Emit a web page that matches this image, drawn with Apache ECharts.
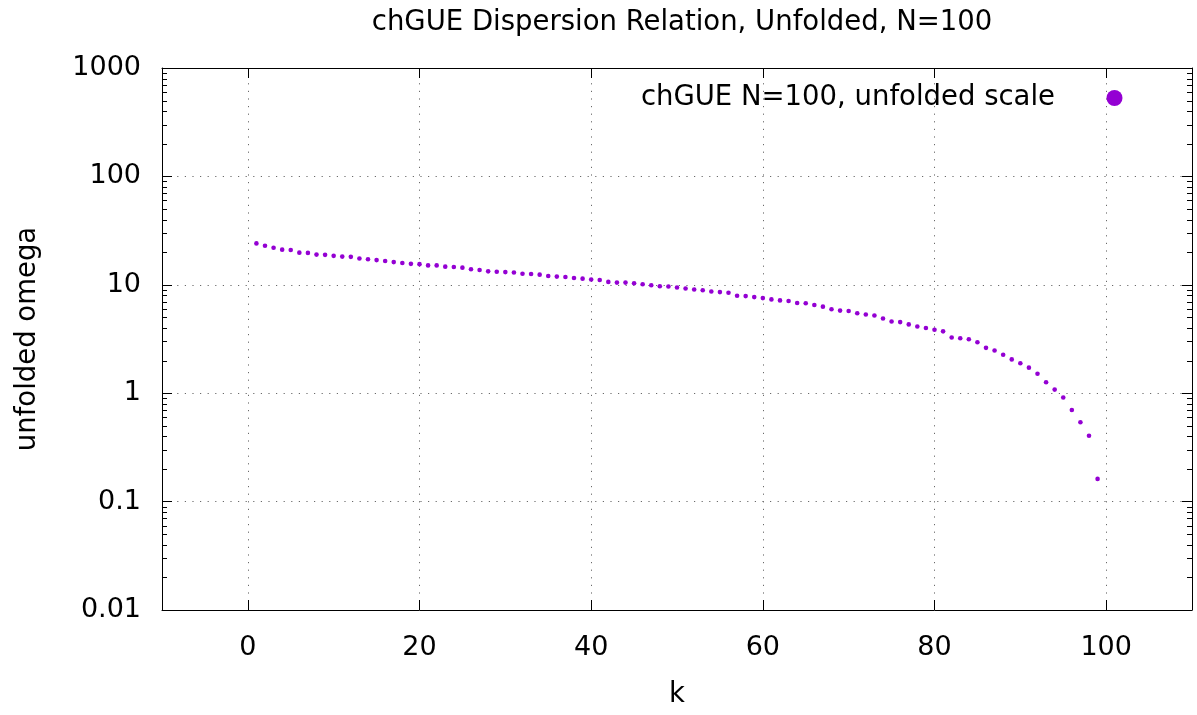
<!DOCTYPE html>
<html><head><meta charset="utf-8">
<script src="https://cdn.jsdelivr.net/npm/echarts@6/dist/echarts.min.js"></script>
<style>html,body{margin:0;padding:0;background:#fff}#c{width:1197px;height:715px}</style>
</head><body><div id="c"></div>
<script>
const titleText = 'chGUE Dispersion Relation, Unfolded, N=100';
const seriesName = 'chGUE N=100, unfolded scale';
const xName = 'k';
const yName = 'unfolded omega';
const kValues = [1,2,3,4,5,6,7,8,9,10,11,12,13,14,15,16,17,18,19,20,
  21,22,23,24,25,26,27,28,29,30,31,32,33,34,35,36,37,38,39,40,
  41,42,43,44,45,46,47,48,49,50,51,52,53,54,55,56,57,58,59,60,
  61,62,63,64,65,66,67,68,69,70,71,72,73,74,75,76,77,78,79,80,
  81,82,83,84,85,86,87,88,89,90,91,92,93,94,95,96,97,98,99];
const omegaValues = [24.1,22.9,22.0,21.1,20.95,19.8,19.7,19.0,18.9,18.5,
  18.2,18.1,17.5,17.2,16.9,16.6,16.2,15.9,15.6,15.5,
  15.1,15.1,14.7,14.6,14.4,13.9,13.7,13.3,13.2,13.1,
  13.0,12.66,12.57,12.4,12.05,11.9,11.8,11.56,11.4,11.2,
  11.08,10.63,10.48,10.48,10.33,10.12,9.91,9.70,9.63,9.44,
  9.24,9.05,8.92,8.68,8.56,8.44,7.92,7.87,7.70,7.54,
  7.33,7.18,7.08,6.79,6.75,6.51,6.29,5.95,5.78,5.74,
  5.47,5.32,5.21,4.89,4.59,4.53,4.31,4.13,3.99,3.85,
  3.72,3.26,3.21,3.15,2.95,2.62,2.48,2.26,2.05,1.89,
  1.72,1.51,1.26,1.08,0.912,0.699,0.540,0.405,0.162];
const xTickValues = [0,20,40,60,80,100];
const yTickLabels = ['0.01','0.1','1','10','100','1000'];
const yMinorTickValues = [0.02,0.03,0.04,0.05,0.06,0.07,0.08,0.09,
  0.2,0.3,0.4,0.5,0.6,0.7,0.8,0.9,
  2,3,4,5,6,7,8,9,
  20,30,40,50,60,70,80,90,
  200,300,400,500,600,700,800,900];

const FONT = 'DejaVu Sans';
const points = kValues.map((k, i) => [k, omegaValues[i]]);
const gridLine = {show: true, lineStyle: {color: '#6a6a6a', width: 1, type: [1.2, 6.4]}};
const blackLine = {color: '#000', width: 1};

const chart = echarts.init(document.getElementById('c'), null, {renderer: 'canvas'});
chart.setOption({
  animation: false,
  backgroundColor: '#fff',
  title: {
    text: titleText, left: 677, top: 3, textAlign: 'center',
    textStyle: {fontFamily: FONT, fontSize: 27.5, fontWeight: 'normal', color: '#000', lineHeight: 30}
  },
  legend: {
    data: [seriesName], right: 74.5, top: 83, padding: 0, align: 'right',
    itemWidth: 16, itemHeight: 16, selectedMode: false,
    textStyle: {fontFamily: FONT, fontSize: 27.5, color: '#000', lineHeight: 30, padding: [0, 46.5, 0, 0]}
  },
  grid: {left: 162, right: 5, top: 68, bottom: 99, containLabel: false},
  xAxis: [{
    type: 'value', min: -10, max: 110, position: 'bottom',
    axisLine: {show: true, onZero: false, lineStyle: blackLine},
    axisTick: {show: true, inside: true, length: 10, customValues: xTickValues, lineStyle: blackLine},
    axisLabel: {customValues: xTickValues, fontFamily: FONT, fontSize: 27, color: '#000', margin: 23, lineHeight: 30},
    splitLine: gridLine,
    name: xName, nameLocation: 'middle', nameGap: 70,
    nameTextStyle: {fontFamily: FONT, fontSize: 27.5, color: '#000', lineHeight: 30}
  }, {
    type: 'value', min: -10, max: 110, position: 'top',
    axisLine: {show: true, onZero: false, lineStyle: blackLine},
    axisTick: {show: true, inside: true, length: 10, customValues: xTickValues, lineStyle: blackLine},
    axisLabel: {show: false, customValues: xTickValues},
    splitLine: {show: false}
  }],
  yAxis: [{
    type: 'log', logBase: 10, min: 0.01, max: 1000, position: 'left',
    axisLine: {show: true, onZero: false, lineStyle: blackLine},
    axisTick: {show: true, inside: true, length: 10, lineStyle: blackLine},
    axisLabel: {
      fontFamily: FONT, fontSize: 27, color: '#000', margin: 21, lineHeight: 30,
      formatter: v => yTickLabels[Math.round(Math.log10(v)) + 2]
    },
    splitLine: gridLine,
    name: yName, nameLocation: 'middle', nameGap: 119,
    nameTextStyle: {fontFamily: FONT, fontSize: 27.5, color: '#000', lineHeight: 30}
  }, {
    type: 'log', logBase: 10, min: 0.01, max: 1000, position: 'right',
    axisLine: {show: true, onZero: false, lineStyle: blackLine},
    axisTick: {show: true, inside: true, length: 10, lineStyle: blackLine},
    axisLabel: {show: false},
    splitLine: {show: false}
  }],
  series: [{
    name: seriesName, type: 'scatter', xAxisIndex: 0, yAxisIndex: 0,
    data: points, symbol: 'circle', symbolSize: 4.6,
    itemStyle: {color: '#9400d3', opacity: 1}, z: 5
  }, {
    name: 'minorTicks', type: 'custom', xAxisIndex: 0, yAxisIndex: 0, silent: true, z: 4,
    data: yMinorTickValues.map(v => [0, v]), encode: {x: 0, y: 1}, clip: false,
    renderItem: function (params, api) {
      const cs = params.coordSys;
      const y = Math.round(api.coord([0, api.value(1)])[1]) + 0.5;
      const len = 5;
      return {type: 'group', children: [
        {type: 'line', shape: {x1: cs.x, y1: y, x2: cs.x + len, y2: y}, style: {stroke: '#000', lineWidth: 1}},
        {type: 'line', shape: {x1: cs.x + cs.width, y1: y, x2: cs.x + cs.width - len, y2: y}, style: {stroke: '#000', lineWidth: 1}}
      ]};
    }
  }]
});
</script>
</body></html>
